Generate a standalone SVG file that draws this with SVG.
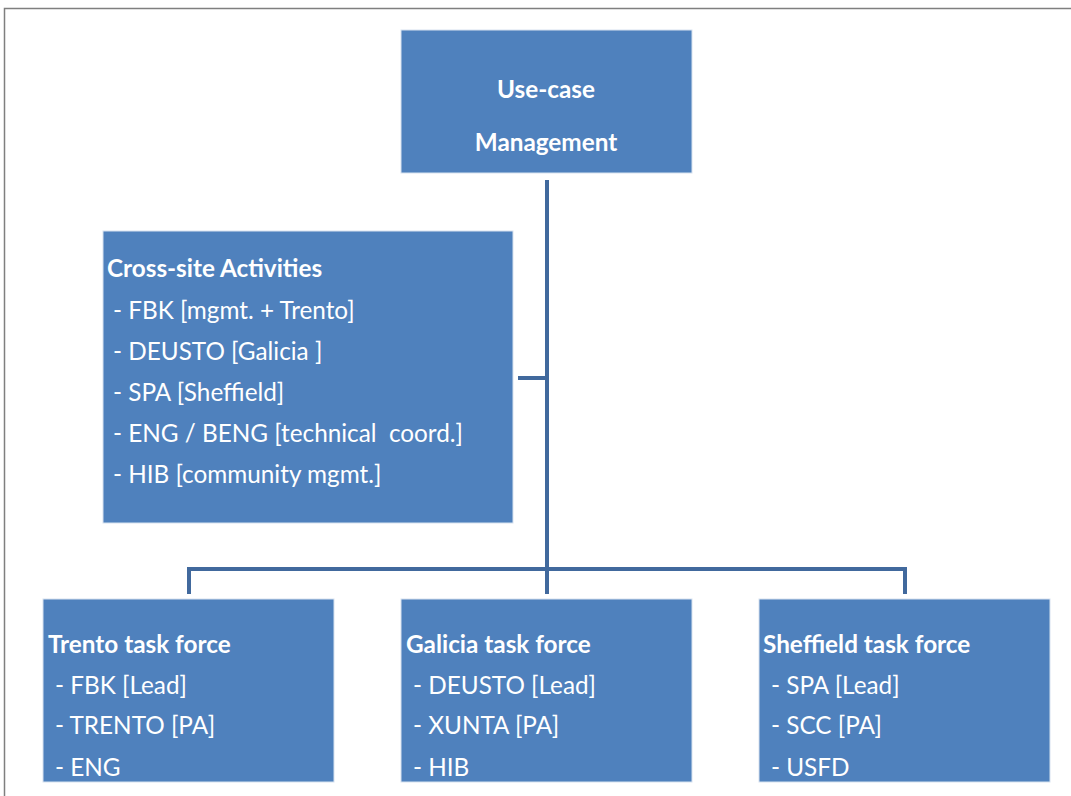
<svg xmlns="http://www.w3.org/2000/svg" width="1071" height="796" viewBox="0 0 1071 796">
<style>
.box{fill:#4f81bd;stroke:#d7e2ef;stroke-width:1}
.t{font-family:Lato,"Open Sans","Liberation Sans",sans-serif;font-size:24.3px;fill:#ffffff;white-space:pre}
.b{font-weight:bold}
.c{fill:none;stroke:#41699d;stroke-width:4}
</style>
<rect width="1071" height="796" fill="#ffffff"/>
<path d="M4.5 796 V8.5 H1071" fill="none" stroke="#7f7f7f" stroke-width="1.5"/>
<g id="connectors">
<path class="c" d="M547 180 V594"/>
<path class="c" d="M518 378 H547"/>
<path class="c" d="M189 594 V569 H905 V594"/>
</g>
<g id="node-usecase">
<rect class="box" x="401" y="30" width="291" height="143"/>
<text class="t b" x="546" y="98" text-anchor="middle">Use-case</text>
<text class="t b" x="546" y="151" text-anchor="middle">Management</text>
</g>
<g id="node-crosssite">
<rect class="box" x="103" y="231" width="410" height="292"/>
<text class="t b" x="107" y="277">Cross-site Activities</text>
<text class="t" x="113" y="319">- FBK [mgmt. + Trento]</text>
<text class="t" x="113" y="360">- DEUSTO [Galicia ]</text>
<text class="t" x="113" y="401">- SPA [Sheffield]</text>
<text class="t" x="113" y="442" xml:space="preserve">- ENG / BENG [technical  coord.]</text>
<text class="t" x="113" y="483">- HIB [community mgmt.]</text>
</g>
<g id="node-trento">
<rect class="box" x="43" y="599" width="291" height="183"/>
<text class="t b" x="48" y="653">Trento task force</text>
<text class="t" x="55" y="694">- FBK [Lead]</text>
<text class="t" x="55" y="734">- TRENTO [PA]</text>
<text class="t" x="55" y="776">- ENG</text>
</g>
<g id="node-galicia">
<rect class="box" x="401" y="599" width="291" height="183"/>
<text class="t b" x="406" y="653">Galicia task force</text>
<text class="t" x="413" y="694">- DEUSTO [Lead]</text>
<text class="t" x="413" y="734">- XUNTA [PA]</text>
<text class="t" x="413" y="776">- HIB</text>
</g>
<g id="node-sheffield">
<rect class="box" x="759" y="599" width="291" height="183"/>
<text class="t b" x="763" y="653">Sheffield task force</text>
<text class="t" x="771" y="694">- SPA [Lead]</text>
<text class="t" x="771" y="734">- SCC [PA]</text>
<text class="t" x="771" y="776">- USFD</text>
</g>
</svg>
